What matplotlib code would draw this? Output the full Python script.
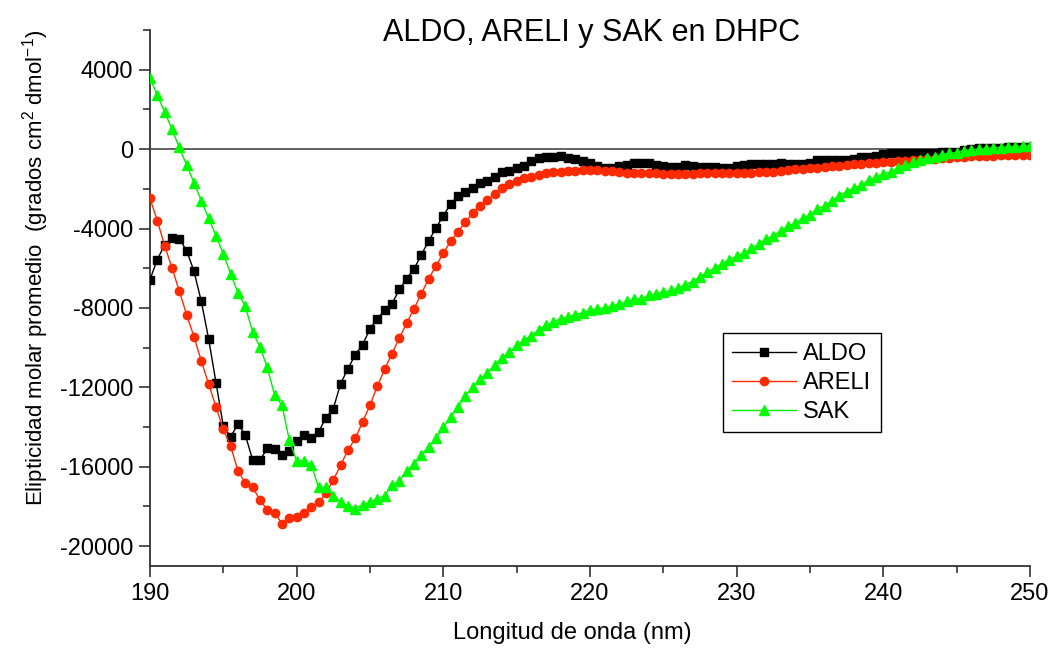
import numpy as np
import matplotlib
matplotlib.use("Agg")
import matplotlib.pyplot as plt
from matplotlib.ticker import MultipleLocator

plt.rcParams['font.family'] = ['Liberation Sans', 'DejaVu Sans']
plt.rcParams['mathtext.default'] = 'regular'
plt.rcParams['axes.unicode_minus'] = False

# wavelength grid (nm), 0.5 nm steps
wavelength = np.arange(190, 250.5, 0.5)

aldo = [
    -6570, -5560, -4820, -4470, -4520, -5110, -6150, -7670, -9560, -11760,
    -13950, -14490, -13850, -14400, -15660, -15660, -15080, -15110, -15410, -15210,
    -14710, -14400, -14570, -14240, -13530, -13070, -11810, -11060, -10350, -9850,
    -9050, -8540, -8120, -7790, -7070, -6530, -6030, -5330, -4620, -3980,
    -3350, -2760, -2340, -2140, -1980, -1720, -1620, -1390, -1170, -1090,
    -950, -870, -620, -420, -390, -390, -340, -450, -500, -590,
    -720, -870, -950, -950, -870, -800, -720, -700, -720, -800,
    -840, -880, -880, -800, -870, -920, -920, -880, -950, -950,
    -870, -800, -750, -750, -750, -730, -720, -750, -750, -740,
    -720, -560, -540, -540, -530, -530, -520, -400, -380, -360,
    -220, -210, -200, -200, -200, -180, -170, -170, -160, -150,
    -120, -50, 20, 40, 60, 80, 80, 100, 100, 110,
    120,
]

areli = [
    -2480, -3600, -4860, -5980, -7150, -8340, -9450, -10670, -11840, -12980,
    -14120, -14960, -16200, -16830, -17040, -17670, -18170, -18310, -18880, -18560,
    -18510, -18340, -18010, -17790, -17340, -16670, -15920, -15160, -14570, -13740,
    -12900, -11940, -11090, -10300, -9520, -8760, -8040, -7290, -6530, -5880,
    -5240, -4640, -4150, -3690, -3220, -2850, -2550, -2260, -1960, -1760,
    -1590, -1470, -1390, -1290, -1220, -1170, -1130, -1100, -1080, -1060,
    -1050, -1060, -1080, -1120, -1150, -1180, -1200, -1220, -1220, -1220,
    -1230, -1230, -1230, -1230, -1230, -1220, -1220, -1220, -1220, -1220,
    -1200, -1200, -1180, -1170, -1150, -1130, -1100, -1060, -1020, -990,
    -960, -930, -900, -870, -840, -800, -770, -740, -720, -690,
    -670, -650, -620, -590, -560, -530, -510, -480, -450, -420,
    -400, -380, -360, -340, -330, -320, -310, -300, -300, -290,
    -290,
]

sak = [
    3600, 2710, 1880, 1000, 85, -800, -1680, -2600, -3480, -4350,
    -5280, -6280, -7240, -7920, -9210, -9970, -11000, -12400, -12900, -14660,
    -15700, -15700, -15910, -17040, -17040, -17450, -17790, -17960, -18120, -17920,
    -17790, -17620, -17450, -16920, -16700, -16210, -15860, -15410, -15000, -14570,
    -14020, -13480, -12980, -12430, -11980, -11590, -11260, -10890, -10520, -10220,
    -9880, -9630, -9400, -9110, -8880, -8710, -8540, -8460, -8330, -8260,
    -8120, -8040, -7990, -7920, -7820, -7670, -7570, -7540, -7370, -7290,
    -7200, -7120, -7000, -6820, -6670, -6420, -6200, -6000, -5780, -5560,
    -5400, -5230, -4990, -4800, -4550, -4350, -4140, -3880, -3730, -3480,
    -3300, -3020, -2850, -2600, -2340, -2140, -1970, -1810, -1560, -1420,
    -1260, -1140, -950, -800, -670, -540, -470, -390, -290, -200,
    -170, -80, -30, 0, 30, 80, 80, 130, 130, 170,
    170,
]

fig = plt.figure(figsize=(10.51, 6.54), dpi=100)
ax = fig.add_axes([0.1427, 0.1346, 0.8373, 0.8194])

ax.axhline(0, color='#555555', lw=1.3, zorder=1)

ax.plot(wavelength, aldo, '-s', color='black', lw=1, ms=5.5, label='ALDO', zorder=3)
ax.plot(wavelength, areli, '-o', color='#ff2a00', lw=1, ms=6, label='ARELI', zorder=4)
ax.plot(wavelength, sak, '-^', color='#00ee00', mfc='#00ff00', mec='#00ff00',
        lw=1, ms=7, label='SAK', zorder=5)

ax.set_xlim(190, 250)
ax.set_ylim(-21000, 6000)
ax.xaxis.set_major_locator(MultipleLocator(10))
ax.xaxis.set_minor_locator(MultipleLocator(5))
ax.set_yticks(range(-20000, 4001, 4000))
ax.yaxis.set_minor_locator(MultipleLocator(2000))

for side in ['top', 'right']:
    ax.spines[side].set_visible(False)
for side in ['left', 'bottom']:
    ax.spines[side].set_color('#333333')
    ax.spines[side].set_linewidth(1.3)

ax.tick_params(which='major', direction='out', length=8, width=1.2, color='#333333',
               labelsize=17, pad=4)
ax.tick_params(which='minor', direction='out', length=5, width=1.2, color='#333333')

fig.text(592 / 1051, 1 - 33 / 654, 'ALDO, ARELI y SAK en DHPC', fontsize=22,
         ha='center', va='center')
ax.set_xlabel('Longitud de onda (nm)', fontsize=17)
ax.xaxis.set_label_coords(0.48, -0.105)
ax.set_ylabel('Elipticidad molar promedio  (grados cm$^{2}$ dmol$^{-1}$)', fontsize=16)
ax.yaxis.set_label_coords(-0.113, 0.556)

leg = ax.legend(loc='upper left', bbox_to_anchor=(0.651, 0.434), fontsize=17,
                fancybox=False, framealpha=1, edgecolor='black', handlelength=2.7,
                borderpad=0.4, labelspacing=0.3, handletextpad=0.3, borderaxespad=0)
leg.get_frame().set_linewidth(1.0)

fig.savefig('out.png', dpi=100)
